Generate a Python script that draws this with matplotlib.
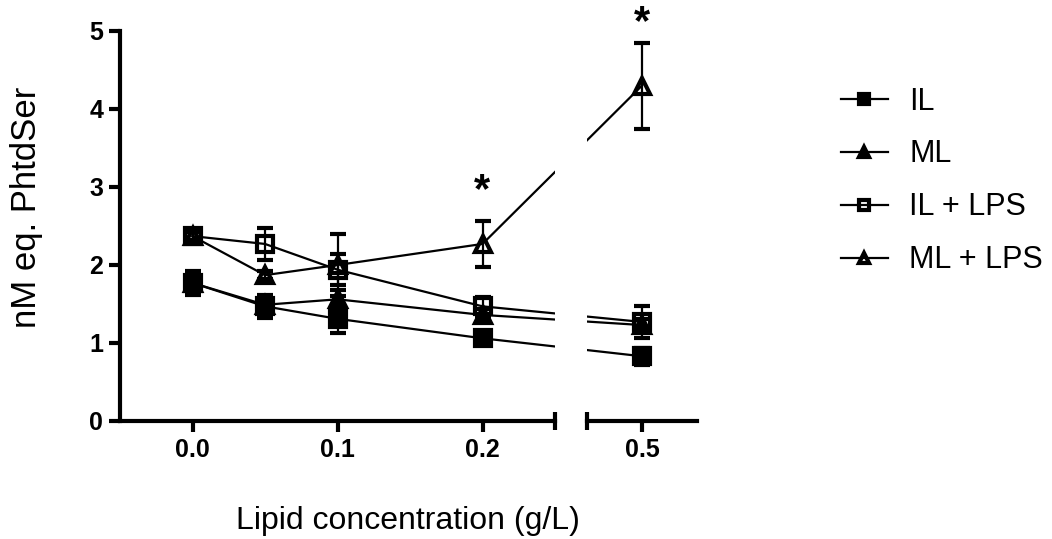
"""Phosphatidylserine equivalents vs lipid concentration (broken x axis)."""

import matplotlib

matplotlib.use("Agg")
import matplotlib.pyplot as plt

plt.rcParams["font.family"] = ["Liberation Sans", "DejaVu Sans"]

# --- data ---
conc = [0.0, 0.05, 0.1, 0.2, 0.5]

il = [1.77, 1.47, 1.31, 1.06, 0.83]
il_err = [0.15, 0.15, 0.18, 0.05, 0.11]

ml = [1.77, 1.49, 1.56, 1.36, 1.23]
ml_err = [0.08, 0.08, 0.12, 0.08, 0.08]

il_lps = [2.37, 2.27, 1.94, 1.47, 1.27]
il_lps_err = [0.05, 0.2, 0.2, 0.12, 0.2]

ml_lps = [2.37, 1.87, 2.0, 2.27, 4.3]
ml_lps_err = [0.05, 0.05, 0.4, 0.3, 0.55]

star_x = [0.2, 0.5]
star_y = [2.95, 5.1]

x_ticks = [0.0, 0.1, 0.2, 0.5]
x_tick_labels = ["0.0", "0.1", "0.2", "0.5"]

# broken axis: everything above the break is shifted left
BREAK = 0.25
SHIFT = 0.19


def pos(x):
    """Maps a concentration onto the compressed axis position."""
    return x if x <= BREAK else x - SHIFT


series = [
    ("IL", il, il_err, dict(marker="s", mfc="black")),
    ("ML", ml, ml_err, dict(marker="^", mfc="black")),
    ("IL + LPS", il_lps, il_lps_err, dict(marker="s", mfc="none")),
    ("ML + LPS", ml_lps, ml_lps_err, dict(marker="^", mfc="none")),
]

W, H = 1052, 539
fig = plt.figure(figsize=(W / 100, H / 100), dpi=100)
bottom = 1 - 421 / H
height = 390 / H
ax_l = fig.add_axes([120 / W, bottom, 435 / W, height])
ax_r = fig.add_axes([587 / W, bottom, 110 / W, height])

xs = [pos(c) for c in conc]
for ax in (ax_l, ax_r):
    for i, (name, y, err, style) in enumerate(series):
        ax.errorbar(
            xs, y, yerr=err, color="black", mec="black", ms=12, mew=3,
            lw=1.6, elinewidth=1.6, capsize=6, capthick=1.6,
            label=name, zorder=3 + i, **style,
        )
    ax.set_ylim(0, 5)
    for side in ("top", "right"):
        ax.spines[side].set_visible(False)
    for side in ("left", "bottom"):
        ax.spines[side].set_linewidth(3)
    ax.tick_params(direction="out", length=8, width=3, labelsize=18, pad=4)

ax_l.set_xlim(-0.05, BREAK)
ax_r.set_xlim(0.272, 0.348)

ax_l.set_xticks([pos(t) for t in x_ticks[:3]])
ax_l.set_xticklabels(x_tick_labels[:3], fontweight="bold", fontsize=18)
ax_r.set_xticks([pos(t) for t in x_ticks[3:]])
ax_r.set_xticklabels(x_tick_labels[3:], fontweight="bold", fontsize=18)
ax_l.set_yticks(range(6))
ax_l.set_yticklabels([str(v) for v in range(6)], fontweight="bold",
                     fontsize=18)

ax_r.spines["left"].set_visible(False)
ax_r.tick_params(axis="y", left=False, labelleft=False)

# end caps at the axis break
ax_l.plot([1, 1], [-0.022, 0.022], transform=ax_l.transAxes,
          color="black", lw=3, clip_on=False, solid_capstyle="butt")
ax_r.plot([0, 0], [-0.022, 0.022], transform=ax_r.transAxes,
          color="black", lw=3, clip_on=False, solid_capstyle="butt")

# significance marks
for sx, sy in zip(star_x, star_y):
    ax = ax_l if sx <= BREAK else ax_r
    ax.text(pos(sx), sy, "*", ha="center", va="center", fontsize=30,
            fontweight="bold", clip_on=False)

ax_l.set_ylabel("nM eq. PhtdSer", fontsize=25)
ax_l.yaxis.set_label_coords(-0.176, 0.549)
fig.text(408 / W, 1 - 521 / H, "Lipid concentration (g/L)", fontsize=23,
         ha="center", va="center")

handles, labels = ax_l.get_legend_handles_labels()
handles = [h[0] for h in handles]
fig.legend(handles, labels, loc="upper left",
           bbox_to_anchor=(813 / W, 1 - 59 / H), frameon=False,
           fontsize=22, markerscale=0.65, handlelength=1.55,
           handletextpad=0.7, labelspacing=0.75)

fig.savefig("out.png", dpi=100)
